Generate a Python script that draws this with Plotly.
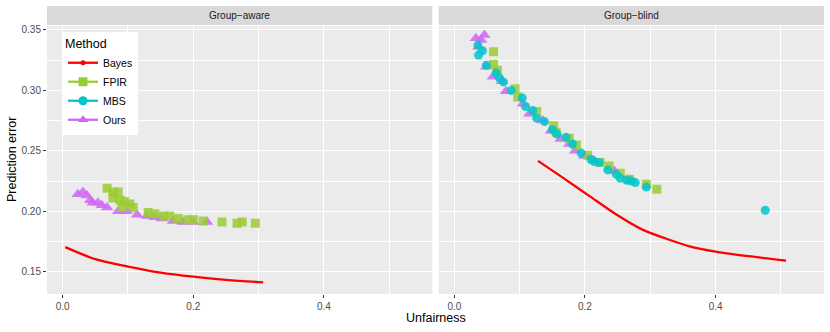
import plotly.graph_objects as go

# Group-aware panel
aware_bayes_x = [0.004, 0.05, 0.10, 0.15, 0.20, 0.25, 0.30, 0.307]
aware_bayes_y = [0.1703, 0.1603, 0.1542, 0.1492, 0.1458, 0.1432, 0.1414, 0.1412]

aware_fpir_x = [0.068, 0.077, 0.085, 0.077, 0.088, 0.095, 0.103, 0.091, 0.108, 0.131, 0.141,
                0.154, 0.164, 0.177, 0.192, 0.200, 0.215, 0.244, 0.267, 0.275, 0.295]
aware_fpir_y = [0.219, 0.216, 0.216, 0.211, 0.209, 0.208, 0.206, 0.204, 0.203, 0.199, 0.198,
                0.196, 0.196, 0.194, 0.193, 0.193, 0.192, 0.191, 0.190, 0.191, 0.190]

aware_ours_x = [0.023, 0.031, 0.037, 0.042, 0.046, 0.054, 0.060, 0.068, 0.085, 0.098, 0.114,
                0.129, 0.141, 0.152, 0.169, 0.184, 0.200, 0.221]
aware_ours_y = [0.214, 0.216, 0.213, 0.209, 0.207, 0.207, 0.205, 0.203, 0.200, 0.200, 0.197,
                0.196, 0.195, 0.194, 0.192, 0.191, 0.191, 0.191]

# Group-blind panel
blind_bayes_x = [0.128, 0.166, 0.207, 0.248, 0.288, 0.329, 0.360, 0.400, 0.450, 0.508]
blind_bayes_y = [0.2417, 0.2278, 0.2125, 0.1973, 0.1848, 0.1764, 0.1710, 0.1666, 0.1628, 0.1592]

blind_fpir_x = [0.060, 0.060, 0.066, 0.093, 0.097, 0.126, 0.152, 0.156, 0.176, 0.187, 0.204,
                0.223, 0.237, 0.254, 0.268, 0.294, 0.310]
blind_fpir_y = [0.332, 0.3214, 0.3167, 0.3014, 0.2945, 0.2825, 0.2708, 0.2653, 0.2603, 0.2548, 0.2464,
                0.2403, 0.2375, 0.2314, 0.2264, 0.2223, 0.2181]

blind_mbs_x = [0.036, 0.043, 0.037, 0.049, 0.064, 0.069, 0.075, 0.087, 0.104, 0.109, 0.120,
               0.126, 0.138, 0.150, 0.157, 0.171, 0.181, 0.194, 0.209, 0.214, 0.222, 0.235,
               0.248, 0.254, 0.264, 0.271, 0.277, 0.294, 0.476]
blind_mbs_y = [0.3375, 0.3328, 0.3292, 0.3208, 0.3145, 0.3103, 0.3070, 0.3000, 0.2937, 0.2867, 0.2833,
               0.2770, 0.2742, 0.2675, 0.2639, 0.2612, 0.2556, 0.2481, 0.2431, 0.2412, 0.2403, 0.2342,
               0.2306, 0.2273, 0.2256, 0.2250, 0.2237, 0.2200, 0.2008]

blind_ours_x = [0.033, 0.046, 0.041, 0.037, 0.049, 0.059, 0.073, 0.079, 0.105, 0.115, 0.135,
                0.148, 0.163, 0.176, 0.185, 0.199, 0.214, 0.245, 0.268]
blind_ours_y = [0.3431, 0.3458, 0.3417, 0.3362, 0.3195, 0.3112, 0.3075, 0.2992, 0.2889, 0.2806, 0.2750,
                0.2667, 0.2597, 0.2556, 0.2500, 0.2458, 0.2417, 0.2333, 0.2256]

panels = ["Group\u2212aware", "Group\u2212blind"]
methods = ["Bayes", "FPIR", "MBS", "Ours"]
colors = {"Bayes": "#FF0000", "FPIR": "#9ACD32", "MBS": "#00C5CD", "Ours": "#D066F5"}
symbols = {"Bayes": "circle", "FPIR": "square", "MBS": "circle", "Ours": "triangle-up"}
sizes = {"Bayes": 5, "FPIR": 9, "MBS": 9, "Ours": 11}

FONT = "Liberation Sans, Arial, sans-serif"

fig = go.Figure()


def bayes(x, y, xa, ya):
    fig.add_trace(go.Scatter(x=x, y=y, mode="lines", xaxis=xa, yaxis=ya,
                             line=dict(color=colors["Bayes"], width=2.3, shape="spline", smoothing=0.8),
                             showlegend=False, hoverinfo="skip"))


def pts(x, y, m, xa, ya):
    fig.add_trace(go.Scatter(x=x, y=y, mode="markers", xaxis=xa, yaxis=ya,
                             marker=dict(color=colors[m], symbol=symbols[m], size=sizes[m],
                                         opacity=0.85, line=dict(width=0)),
                             showlegend=False))


bayes(aware_bayes_x, aware_bayes_y, "x", "y")
pts(aware_ours_x, aware_ours_y, "Ours", "x", "y")
pts(aware_fpir_x, aware_fpir_y, "FPIR", "x", "y")

bayes(blind_bayes_x, blind_bayes_y, "x2", "y2")
pts(blind_ours_x, blind_ours_y, "Ours", "x2", "y2")
pts(blind_fpir_x, blind_fpir_y, "FPIR", "x2", "y2")
pts(blind_mbs_x, blind_mbs_y, "MBS", "x2", "y2")

# legend entries (line + point, like the ggplot keys)
for m in methods:
    fig.add_trace(go.Scatter(x=[None], y=[None], mode="lines+markers", name=m,
                             line=dict(color=colors[m], width=2.3),
                             marker=dict(color=colors[m], symbol=symbols[m],
                                         size=5 if m == "Bayes" else 9)))

xr = [-0.024, 0.566]
yr = [0.1315, 0.3533]
x_common = dict(range=xr, tick0=0, dtick=0.2, tickformat=".1f", showgrid=True,
                gridcolor="white", gridwidth=1.1, zeroline=False, ticks="outside",
                ticklen=3, tickcolor="#333333", tickfont=dict(size=10, color="#4D4D4D"),
                minor=dict(dtick=0.1, showgrid=True, gridcolor="white", gridwidth=0.5),
                showline=False)
y_common = dict(range=yr, tick0=0.15, dtick=0.05, tickformat=".2f", showgrid=True,
                gridcolor="white", gridwidth=1.1, zeroline=False,
                minor=dict(dtick=0.025, showgrid=True, gridcolor="white", gridwidth=0.5))
split = (432.3 - 47) / 777
right0 = (438.7 - 47) / 777

fig.update_layout(
    width=830, height=332,
    margin=dict(l=47, r=6, t=26, b=38),
    paper_bgcolor="white", plot_bgcolor="#EBEBEB",
    font=dict(family=FONT, color="#000"),
    xaxis=dict(domain=[0, split], anchor="y", **x_common),
    xaxis2=dict(domain=[right0, 1], anchor="y2", **x_common),
    yaxis=dict(anchor="x", ticks="outside", ticklen=3, tickcolor="#333333",
               tickfont=dict(size=10, color="#4D4D4D"), **y_common),
    yaxis2=dict(anchor="x2", matches="y", showticklabels=False, ticks="", **y_common),
    legend=dict(x=(63 - 47) / 777, y=(294 - 32) / 268, xanchor="left", yanchor="top",
                bgcolor="white", font=dict(size=10.5, color="#000"),
                title=dict(text="Method", font=dict(size=12.5)),
                tracegroupgap=0, itemwidth=30),
)

# facet strips
strip_lo = (294 - 25) / 268
strip_hi = (294 - 6) / 268
for (x0, x1), label in zip([(0, split), (right0, 1)], panels):
    fig.add_shape(type="rect", xref="paper", yref="paper", x0=x0, x1=x1,
                  y0=strip_lo, y1=strip_hi, fillcolor="#D9D9D9", line=dict(width=0))
    fig.add_annotation(text=label, xref="paper", yref="paper", x=(x0 + x1) / 2,
                       y=(strip_lo + strip_hi) / 2, showarrow=False,
                       font=dict(size=10, color="#1A1A1A"), xanchor="center", yanchor="middle")

fig.add_annotation(text="Unfairness", xref="paper", yref="paper", x=0.5, y=(294 - 318) / 268,
                   showarrow=False, font=dict(size=12.5, color="#000"), yanchor="middle")
fig.add_annotation(text="Prediction error", xref="paper", yref="paper", x=(12 - 47) / 777,
                   y=0.5, textangle=-90, showarrow=False, font=dict(size=12.5, color="#000"),
                   xanchor="center", yanchor="middle")

# page body has a default 8px margin; drop it so the figure sits at the window corner
fig.write_html("out.html", config={"displayModeBar": False},
               post_script="document.body.style.margin='0';")
